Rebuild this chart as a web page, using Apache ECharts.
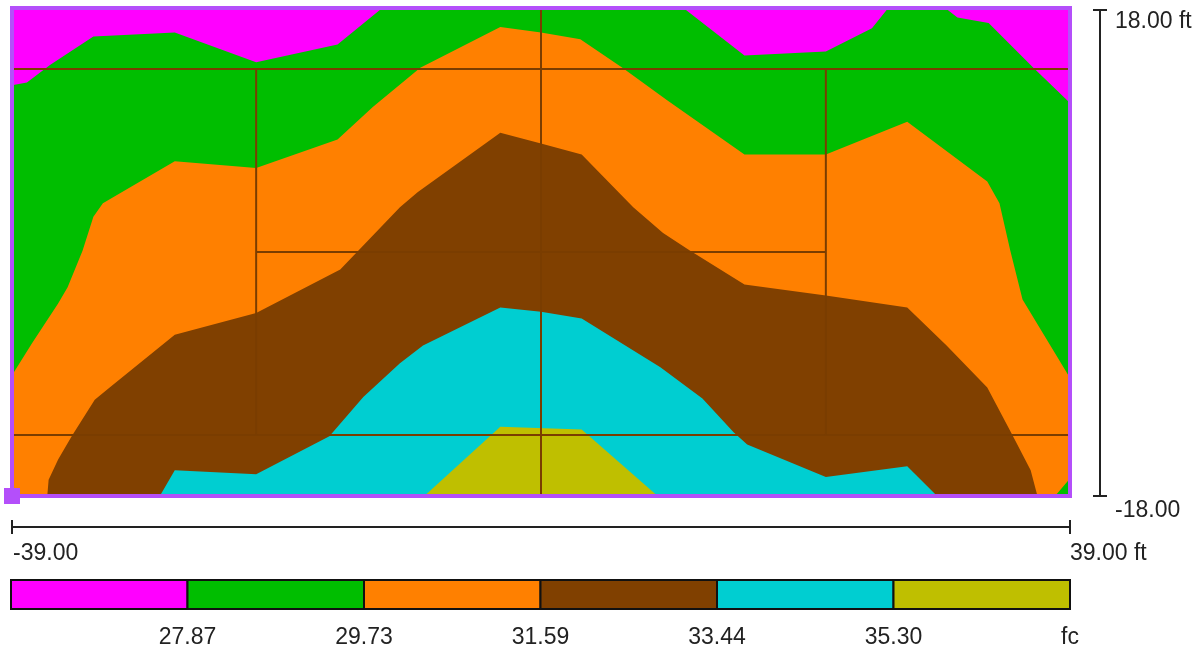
<!DOCTYPE html>
<html>
<head>
<meta charset="utf-8">
<title>Illuminance contours</title>
<script src="https://cdn.jsdelivr.net/npm/echarts@6.0.0/dist/echarts.min.js"></script>
<style>
    html, body { margin: 0; padding: 0; background: #fff; }
    #main { width: 1203px; height: 654px; }
</style>
</head>
<body>
<div id="main"></div>
<script>
// room extents (ft)
var xRange = [-39, 39];
var yRange = [-18, 18];

// contour levels (fc), legend labels, band colours (low -> high)
var levels = [27.87, 29.73, 31.59, 33.44, 35.30];
var unit = 'fc';
var bandColors = ['#FF00FF', '#00BE00', '#FF8000', '#804000', '#00CED1', '#BFBF00'];

// iso-lines, left to right, [x ft, y ft]
// 27.87 fc - three magenta pockets along the top wall
var magLeft = [[-39, 12.3], [-37.9, 12.5], [-36.2, 13.8], [-33, 15.9], [-27, 16.2], [-21, 14], [-15, 15.3], [-11.7, 18]];
var magMid = [[10.5, 18], [15, 14.5], [19.1, 14.7], [21, 14.8], [24.4, 16.5], [25.6, 18]];
var magRight = [[29.8, 18], [30.7, 17.3], [33, 16.9], [36.3, 13.6], [39, 11]];
// 29.73 fc
var iso2973 = [[-39, -9.1], [-37.5, -6.7], [-35.6, -3.8], [-34.9, -2.6], [-33.8, 0.1], [-33, 2.6], [-32.3, 3.6],
    [-27, 6.7], [-21, 6.2], [-15, 8.3], [-12.4, 10.7], [-8.9, 13.6], [-3, 16.6], [0, 16.2], [2.9, 15.7],
    [6, 13.6], [9.3, 11.2], [15, 7.2], [21, 7.2], [27, 9.6], [32.9, 5.2], [33.8, 3.6], [34.6, 0.1],
    [35.5, -3.5], [39, -9.3]];
var greenCorner = [[37.9, -18], [39, -16.7]];
// 31.59 fc
var iso3159 = [[-36.4, -18], [-36.3, -16.8], [-35.6, -15.3], [-34.6, -13.6], [-32.9, -10.9], [-31.8, -10],
    [-27, -6.1], [-21, -4.5], [-14.8, -1.3], [-10.4, 3.3], [-9.1, 4.4], [-3, 8.8], [0, 8], [3, 7.2],
    [6.8, 3.3], [9, 1.4], [11, 0.1], [15, -2.4], [21, -3.2], [27, -4.1], [29.9, -6.9], [32.9, -10],
    [34.8, -13.6], [36.1, -16.1], [36.6, -18]];
// 33.44 fc
var iso3344 = [[-28.1, -18], [-27, -16.1], [-21, -16.4], [-15.6, -13.6], [-13.1, -10.7], [-10.4, -8.2],
    [-8.7, -6.9], [-3, -4.1], [0, -4.4], [3, -4.9], [8.8, -8.5], [11.9, -10.8], [14.2, -13.3],
    [15.2, -14.2], [21, -16.6], [27, -15.8], [29.2, -18]];
// 35.30 fc
var iso3530 = [[-8.6, -18], [-3, -12.9], [3, -13.1], [8.6, -18]];

// layout lines drawn over the plot [x1, y1, x2, y2]
var layoutLines = [
    [-39, 13.5, 39, 13.5],
    [-21, 0, 21, 0],
    [-39, -13.5, 39, -13.5],
    [0, -18, 0, 18],
    [-21, -13.5, -21, 13.5],
    [21, -13.5, 21, 13.5]
];

function rev(a) { return a.slice().reverse(); }

var x0 = xRange[0], x1 = xRange[1], y0 = yRange[0], y1 = yRange[1];

// each band = area above a level, painted low to high
var bandPolys = [
    [[x0, y0], [x1, y0], [x1, y1], [x0, y1]],
    [[x0, y0], [x1, y0]].concat(rev(magRight), rev(magMid), rev(magLeft)),
    iso2973.concat(rev(greenCorner), [[x0, y0]]),
    iso3159,
    iso3344,
    iso3530
];

var lineColor = '#7A3D00';
var frameColor = '#B44FFA';
var textColor = '#222';
var font = 'Arial, "Liberation Sans", sans-serif';

var chart = echarts.init(document.getElementById('main'));

var option = {
    animation: false,
    grid: [
        {left: 12, right: 133, top: 8, bottom: 158},
        {left: 11, right: 133, top: 580, height: 29}
    ],
    xAxis: [
        {type: 'value', gridIndex: 0, min: x0, max: x1, show: false},
        {
            type: 'value', gridIndex: 1, min: 0, max: 6, interval: 1,
            axisLine: {show: false}, axisTick: {show: false}, splitLine: {show: false},
            axisLabel: {
                margin: 17, fontSize: 23, color: textColor, fontFamily: font,
                showMaxLabel: true,
                formatter: function (v) {
                    if (v === 0) return '';
                    return v <= levels.length ? levels[v - 1].toFixed(2) : unit;
                }
            }
        }
    ],
    yAxis: [
        {type: 'value', gridIndex: 0, min: y0, max: y1, show: false},
        {type: 'value', gridIndex: 1, min: 0, max: 1, show: false}
    ],
    series: [
        {
            type: 'custom', name: 'bands', xAxisIndex: 0, yAxisIndex: 0, silent: true,
            data: bandPolys.map(function (p, i) { return [i, 0]; }),
            renderItem: function (params, api) {
                var i = params.dataIndex;
                return {
                    type: 'polygon', z2: i,
                    shape: {points: bandPolys[i].map(function (p) { return api.coord(p); })},
                    style: {fill: bandColors[i]}
                };
            },
            z: 1
        },
        {
            type: 'custom', name: 'layout', xAxisIndex: 0, yAxisIndex: 0, silent: true,
            data: layoutLines,
            encode: {x: [0, 2], y: [1, 3]},
            renderItem: function (params, api) {
                var a = api.coord([api.value(0), api.value(1)]);
                var b = api.coord([api.value(2), api.value(3)]);
                return {
                    type: 'line',
                    shape: {x1: a[0], y1: a[1], x2: b[0], y2: b[1]},
                    style: {stroke: lineColor, lineWidth: 2}
                };
            },
            z: 2
        },
        {
            type: 'custom', name: 'frame', xAxisIndex: 0, yAxisIndex: 0, silent: true,
            data: [[x0, y0, x1, y1]],
            encode: {x: [0, 2], y: [1, 3]},
            renderItem: function (params, api) {
                var a = api.coord([api.value(0), api.value(3)]);
                var b = api.coord([api.value(2), api.value(1)]);
                return {
                    type: 'rect',
                    shape: {x: a[0], y: a[1], width: b[0] - a[0], height: b[1] - a[1]},
                    style: {fill: null, stroke: frameColor, lineWidth: 4}
                };
            },
            z: 3
        },
        {
            type: 'scatter', name: 'origin', xAxisIndex: 0, yAxisIndex: 0, silent: true,
            data: [[x0, y0]], symbol: 'rect', symbolSize: 16,
            itemStyle: {color: frameColor, opacity: 1},
            z: 4
        },
        {
            // legend swatches
            type: 'custom', name: 'legend', xAxisIndex: 1, yAxisIndex: 1, silent: true,
            data: bandColors.map(function (c, i) { return [i, i + 1]; }),
            renderItem: function (params, api) {
                var a = api.coord([api.value(0), 1]);
                var b = api.coord([api.value(1), 0]);
                return {
                    type: 'rect',
                    shape: {x: a[0], y: a[1], width: b[0] - a[0], height: b[1] - a[1]},
                    style: {fill: bandColors[params.dataIndex], stroke: '#111', lineWidth: 2}
                };
            }
        }
    ]
};

chart.setOption(option);

// scale bars beside the plot, placed from the axis scales
var bl = chart.convertToPixel({gridIndex: 0}, [x0, y0]);
var tr = chart.convertToPixel({gridIndex: 0}, [x1, y1]);
var sy = bl[1] + 31;
var sx = tr[0] + 30;
var barStyle = {stroke: textColor, lineWidth: 2};
var txtStyle = function (s, x, y) {
    return {type: 'text', x: x, y: y, style: {text: s, fill: textColor, font: '23px ' + font, verticalAlign: 'middle'}};
};

chart.setOption({
    graphic: [
        {type: 'line', shape: {x1: bl[0], y1: sy, x2: tr[0], y2: sy}, style: barStyle},
        {type: 'line', shape: {x1: bl[0], y1: sy - 7, x2: bl[0], y2: sy + 7}, style: barStyle},
        {type: 'line', shape: {x1: tr[0], y1: sy - 7, x2: tr[0], y2: sy + 7}, style: barStyle},
        txtStyle(x0.toFixed(2), bl[0] + 1, sy + 27),
        txtStyle(x1.toFixed(2) + ' ft', tr[0], sy + 27),
        {type: 'line', shape: {x1: sx, y1: tr[1] + 2, x2: sx, y2: bl[1]}, style: barStyle},
        {type: 'line', shape: {x1: sx - 7, y1: tr[1] + 2, x2: sx + 7, y2: tr[1] + 2}, style: barStyle},
        {type: 'line', shape: {x1: sx - 7, y1: bl[1], x2: sx + 7, y2: bl[1]}, style: barStyle},
        txtStyle(y1.toFixed(2) + ' ft', sx + 15, tr[1] + 14),
        txtStyle(y0.toFixed(2), sx + 15, bl[1] + 15)
    ]
});
</script>
</body>
</html>
